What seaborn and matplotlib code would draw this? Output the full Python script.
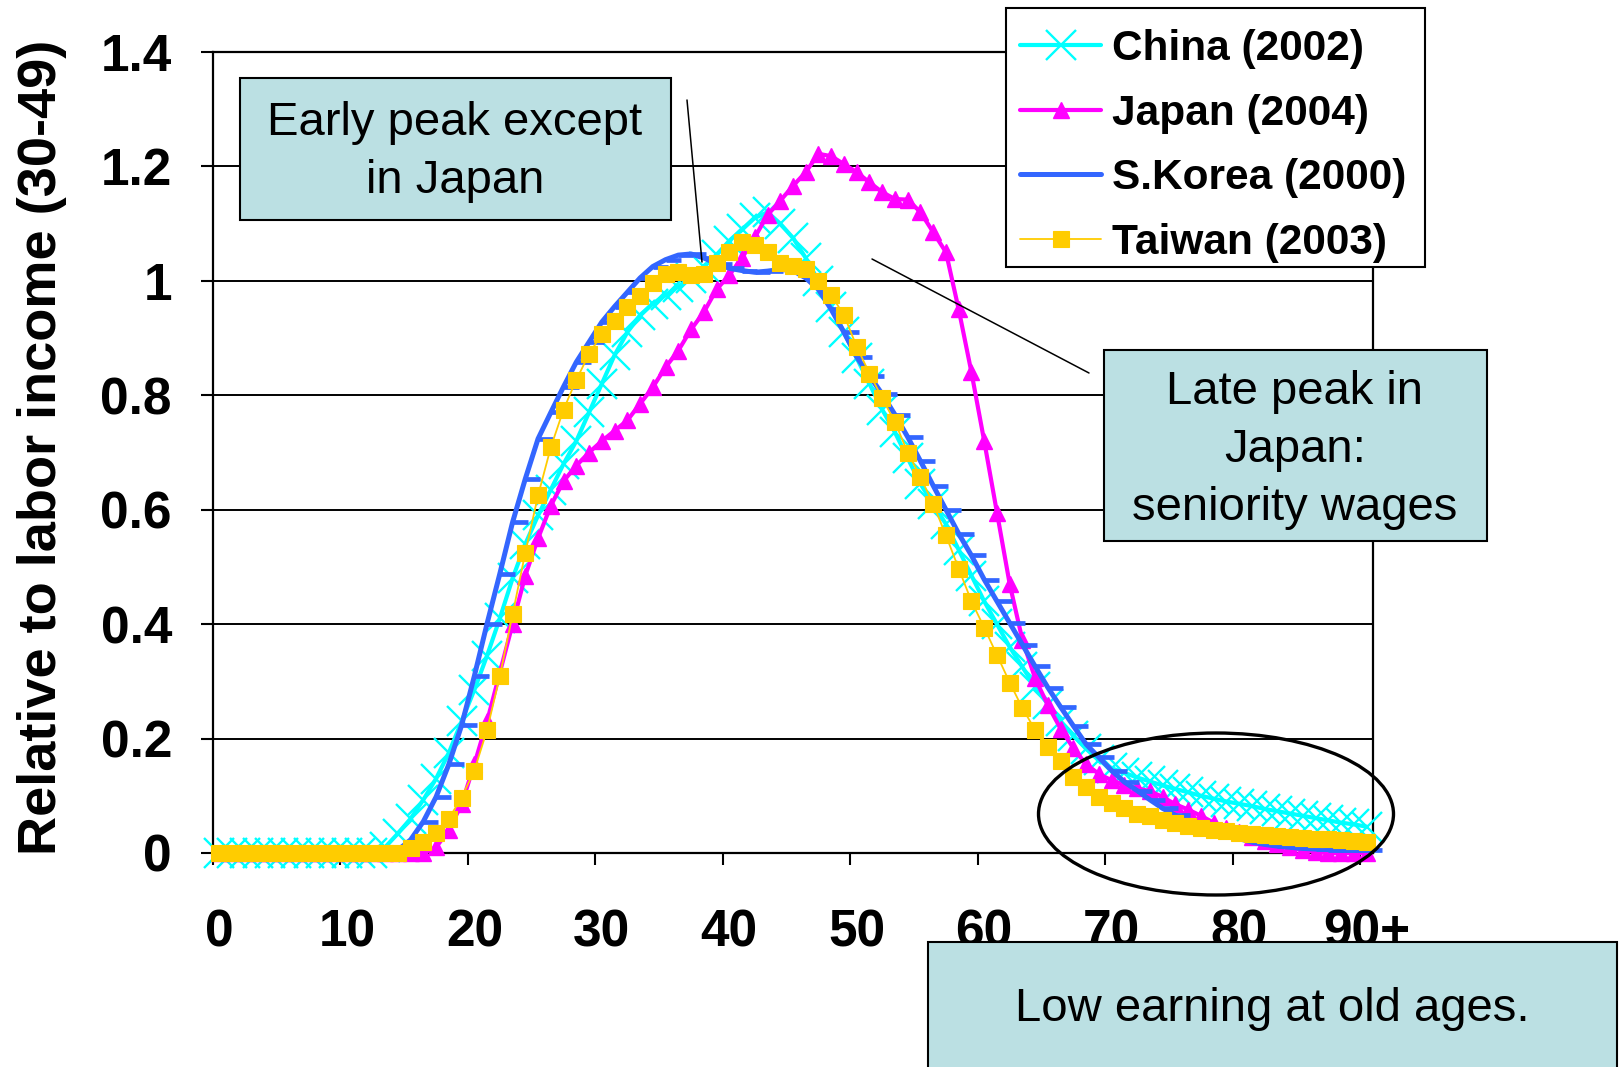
import matplotlib
matplotlib.use("Agg")
import matplotlib.pyplot as plt
import pandas as pd
import seaborn as sns
from matplotlib.patches import Rectangle, Ellipse
from matplotlib.lines import Line2D

# ---------------------------------------------------------------- data
ages = list(range(0, 91))
age_tick_positions = [0, 10, 20, 30, 40, 50, 60, 70, 80, 90]
age_tick_labels = ["0", "10", "20", "30", "40", "50", "60", "70", "80", "90+"]
value_ticks = [0, 0.2, 0.4, 0.6, 0.8, 1.0, 1.2, 1.4]
value_tick_labels = ["0", "0.2", "0.4", "0.6", "0.8", "1", "1.2", "1.4"]

china = [
    0, 0, 0, 0, 0, 0, 0, 0, 0, 0,
    0, 0, 0, 0.010, 0.034, 0.060, 0.093, 0.130, 0.175, 0.230,
    0.285, 0.345, 0.410, 0.480, 0.540, 0.590, 0.635, 0.680, 0.720, 0.770,
    0.820, 0.870, 0.910, 0.940, 0.960, 0.975, 0.990, 1.005, 1.025, 1.045,
    1.070, 1.090, 1.110, 1.120, 1.100, 1.075, 1.040, 1.000, 0.955, 0.910,
    0.865, 0.820, 0.775, 0.735, 0.690, 0.645, 0.610, 0.575, 0.530, 0.485,
    0.440, 0.400, 0.360, 0.325, 0.290, 0.260, 0.230, 0.205, 0.182, 0.162,
    0.148, 0.140, 0.132, 0.125, 0.118, 0.112, 0.106, 0.100, 0.095, 0.090,
    0.086, 0.082, 0.077, 0.073, 0.069, 0.065, 0.061, 0.057, 0.053, 0.050,
    0.046,
]

japan = [
    0, 0, 0, 0, 0, 0, 0, 0, 0, 0,
    0, 0, 0, 0, 0, 0, 0, 0.010, 0.040, 0.085,
    0.155, 0.230, 0.315, 0.400, 0.485, 0.550, 0.607, 0.650, 0.677, 0.700,
    0.720, 0.738, 0.756, 0.785, 0.814, 0.849, 0.878, 0.915, 0.945, 0.985,
    1.010, 1.040, 1.076, 1.115, 1.140, 1.166, 1.190, 1.222, 1.218, 1.204,
    1.190, 1.172, 1.155, 1.143, 1.142, 1.120, 1.085, 1.050, 0.950, 0.840,
    0.720, 0.595, 0.470, 0.372, 0.305, 0.258, 0.217, 0.183, 0.155, 0.138,
    0.127, 0.119, 0.113, 0.108, 0.098, 0.085, 0.076, 0.065, 0.053, 0.044,
    0.036, 0.028, 0.021, 0.015, 0.010, 0.005, 0.002, 0, 0, 0,
    0,
]

korea = [
    0, 0, 0, 0, 0, 0, 0, 0, 0, 0,
    0, 0, 0, 0, 0.005, 0.023, 0.055, 0.098, 0.155, 0.223,
    0.309, 0.401, 0.488, 0.578, 0.654, 0.724, 0.770, 0.815, 0.858, 0.893,
    0.928, 0.955, 0.980, 1.005, 1.025, 1.037, 1.045, 1.047, 1.040, 1.030,
    1.022, 1.018, 1.015, 1.017, 1.020, 1.018, 1.005, 0.985, 0.950, 0.910,
    0.867, 0.834, 0.802, 0.766, 0.727, 0.685, 0.642, 0.600, 0.558, 0.520,
    0.478, 0.440, 0.402, 0.364, 0.326, 0.289, 0.255, 0.222, 0.190, 0.167,
    0.144, 0.124, 0.109, 0.093, 0.078, 0.066, 0.055, 0.046, 0.038, 0.031,
    0.025, 0.019, 0.015, 0.012, 0.010, 0.008, 0.007, 0.006, 0.005, 0.005,
    0.005,
]

taiwan = [
    0, 0, 0, 0, 0, 0, 0, 0, 0, 0,
    0, 0, 0, 0, 0, 0.008, 0.020, 0.035, 0.060, 0.097,
    0.144, 0.215, 0.309, 0.417, 0.525, 0.625, 0.709, 0.775, 0.827, 0.872,
    0.907, 0.930, 0.954, 0.974, 0.997, 1.012, 1.015, 1.010, 1.012, 1.032,
    1.050, 1.068, 1.062, 1.050, 1.032, 1.026, 1.020, 1.000, 0.975, 0.940,
    0.885, 0.838, 0.795, 0.753, 0.700, 0.657, 0.610, 0.555, 0.497, 0.440,
    0.394, 0.346, 0.298, 0.253, 0.215, 0.186, 0.160, 0.133, 0.116, 0.098,
    0.087, 0.078, 0.069, 0.064, 0.058, 0.052, 0.048, 0.044, 0.041, 0.038,
    0.035, 0.033, 0.032, 0.030, 0.028, 0.027, 0.025, 0.024, 0.023, 0.021,
    0.020,
]

series_names = ["China (2002)", "Japan (2004)", "S.Korea (2000)", "Taiwan (2003)"]

df = pd.DataFrame({
    "age": ages,
    series_names[0]: china,
    series_names[1]: japan,
    series_names[2]: korea,
    series_names[3]: taiwan,
})

# ---------------------------------------------------------------- figure
W, H, DPI = 1623, 1067, 100
sns.set_style("white")
plt.rcParams["font.family"] = ["Liberation Sans", "DejaVu Sans"]
plt.rcParams.update({
    "text.color": "black",
    "axes.labelcolor": "black",
    "xtick.color": "black",
    "ytick.color": "black",
})

fig = plt.figure(figsize=(W / DPI, H / DPI), dpi=DPI)
fig.patch.set_facecolor("white")


def fx(px):
    return px / W


def fy(py):
    return 1 - py / H


ax = fig.add_axes([fx(213), fy(853), (1373 - 213) / W, (853 - 52) / H])
ax.set_facecolor("white")

styles = {
    "China (2002)": dict(color="#00FFFF", linewidth=3.0, marker="x",
                         markersize=21, markeredgewidth=1.7,
                         markeredgecolor="#00FFFF"),
    "Japan (2004)": dict(color="#FF00FF", linewidth=3.0, marker="^",
                         markersize=11.5, markeredgewidth=1.0,
                         markeredgecolor="#FF00FF", markerfacecolor="#FF00FF"),
    "S.Korea (2000)": dict(color="#3366FF", linewidth=3.6, marker=1,
                           markersize=11, markeredgewidth=3.4,
                           markeredgecolor="#3366FF"),
    "Taiwan (2003)": dict(color="#FFCC00", linewidth=1.3, marker="s",
                          markersize=11.5, markeredgewidth=0.8,
                          markeredgecolor="#FFCC00", markerfacecolor="#FFCC00"),
}

for z, name in enumerate(series_names):
    sns.lineplot(data=df, x="age", y=name, ax=ax, label=name, legend=False,
                 errorbar=None, clip_on=False, zorder=3 + z, **styles[name])

ax.set_xlabel("")
ax.set_ylabel("")

# axes, ticks and grid
ax.set_xlim(-0.5, 90.5)
ax.set_ylim(0, 1.4)
ax.set_yticks(value_ticks, value_tick_labels, fontsize=37, fontweight="bold",
              color="black")
ax.set_xticks(age_tick_positions, age_tick_labels, fontsize=37, fontweight="bold",
              color="black")
ax.set_xticks([p - 0.5 for p in age_tick_positions], minor=True)
ax.tick_params(axis="y", which="major", direction="out", length=8.6, width=1.5,
               color="black", pad=21, left=True)
ax.tick_params(axis="x", which="major", length=0, pad=40, bottom=True)
ax.tick_params(axis="x", which="minor", direction="out", length=8.6, width=1.5,
               color="black", bottom=True)

ax.yaxis.grid(True, color="black", linewidth=1.4)
ax.xaxis.grid(False)
ax.set_axisbelow(True)
for sp in ax.spines.values():
    sp.set_visible(True)
    sp.set_color("black")
    sp.set_linewidth(1.6)

fig.text(fx(42), fy(447), "Relative to labor income (30-49)", rotation=90,
         ha="center", va="center", fontsize=39, fontweight="bold", color="black")

# legend: white framed panel with the entries placed inside it
fig.add_artist(Rectangle((fx(1006), fy(267)), (1425 - 1006) / W, (267 - 8) / H,
                         transform=fig.transFigure, facecolor="white",
                         edgecolor="black", linewidth=1.5, zorder=4.5))
handles, labels = ax.get_legend_handles_labels()
leg = fig.legend(handles, labels, loc="upper left",
                 bbox_to_anchor=(fx(1020), fy(29)), bbox_transform=fig.transFigure,
                 borderaxespad=0, frameon=False, prop=dict(weight="bold", size=30.5),
                 handlelength=1.92, handletextpad=0.26, borderpad=0,
                 labelspacing=0.58, labelcolor="black")
leg.set_zorder(5)

# callout boxes
BOX = "#BBE0E3"


def callout(x0, y0, x1, y1, text, cx, cy):
    fig.add_artist(Rectangle((fx(x0), fy(y1)), (x1 - x0) / W, (y1 - y0) / H,
                             transform=fig.transFigure, facecolor=BOX,
                             edgecolor="black", linewidth=1.5, zorder=6))
    fig.text(fx(cx), fy(cy), text, ha="center", va="center", fontsize=34,
             linespacing=1.42, color="black", zorder=7)


callout(240, 78, 671, 220, "Early peak except\nin Japan", 455, 152)
callout(1104, 350, 1487, 541, "Late peak in\nJapan:\nseniority wages", 1295, 450)
callout(928, 942, 1617, 1090, "Low earning at old ages.", 1272, 1009)

for (x0, y0), (x1, y1) in [((687, 100), (702, 262)), ((872, 259), (1089, 373))]:
    fig.add_artist(Line2D([fx(x0), fx(x1)], [fy(y0), fy(y1)],
                          transform=fig.transFigure, color="black",
                          linewidth=1.1, zorder=6))

fig.add_artist(Ellipse((fx(1216), fy(814)), width=355 / W, height=162 / H,
                       transform=fig.transFigure, fill=False,
                       edgecolor="black", linewidth=2.4, zorder=6))

fig.savefig("out.png", dpi=DPI, facecolor="white")
